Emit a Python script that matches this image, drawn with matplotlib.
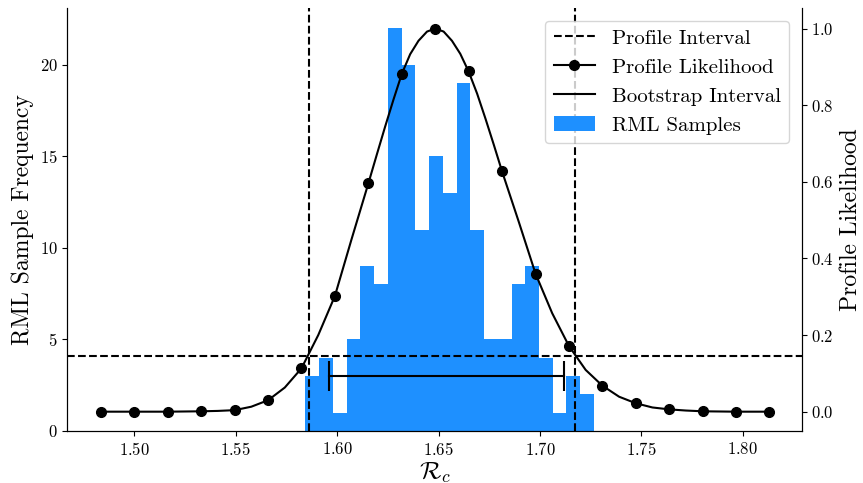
import matplotlib
matplotlib.use('Agg')
import matplotlib.pyplot as plt

plt.rcParams['font.family'] = 'serif'
plt.rcParams['font.serif'] = ['cmr10']
plt.rcParams['mathtext.fontset'] = 'cm'
plt.rcParams['axes.formatter.use_mathtext'] = True

# RML sample histogram (bin edges and counts)
bin_edges = [1.5844, 1.5912, 1.5980, 1.6047, 1.6115, 1.6183, 1.6250, 1.6318,
             1.6386, 1.6453, 1.6521, 1.6589, 1.6657, 1.6724, 1.6792, 1.6860,
             1.6927, 1.6995, 1.7063, 1.7130, 1.7198, 1.7266]
counts = [3, 4, 1, 5, 9, 8, 22, 20, 11, 15, 13, 19, 11, 5, 5, 8, 9, 4, 1, 3, 2]

# profile likelihood curve
rc_grid = [1.4836, 1.4918, 1.5001, 1.5083, 1.5165, 1.5248, 1.5330, 1.5412,
           1.5495, 1.5577, 1.5660, 1.5742, 1.5824, 1.5907, 1.5989, 1.6071,
           1.6154, 1.6195, 1.6236, 1.6278, 1.6319, 1.6360, 1.6401, 1.6443,
           1.6484, 1.6525, 1.6566, 1.6607, 1.6648, 1.6690, 1.6731, 1.6772,
           1.6813, 1.6895, 1.6978, 1.7060, 1.7143, 1.7225, 1.7307, 1.7390,
           1.7472, 1.7554, 1.7637, 1.7719, 1.7802, 1.7884, 1.7966, 1.8049,
           1.8131]
likelihood = [0.0, 0.0, 0.0, 0.0, 0.0, 0.0005, 0.001, 0.002,
              0.004, 0.013, 0.030, 0.063, 0.113, 0.200, 0.302, 0.450,
              0.596, 0.670, 0.743, 0.815, 0.882, 0.933, 0.968, 0.992,
              1.0, 0.992, 0.968, 0.934, 0.888, 0.830, 0.765, 0.697,
              0.627, 0.496, 0.360, 0.257, 0.171, 0.109, 0.068, 0.039,
              0.022, 0.011, 0.006, 0.003, 0.001, 0.0005, 0.0, 0.0,
              0.0]
# grid points where the likelihood was evaluated (markers)
marker_rc = [1.4836, 1.5001, 1.5165, 1.5330, 1.5495, 1.5660, 1.5824, 1.5989,
             1.6154, 1.6319, 1.6484, 1.6648, 1.6813, 1.6978, 1.7143, 1.7307,
             1.7472, 1.7637, 1.7802, 1.7966, 1.8131]

threshold = 0.146
profile_ci = [1.5861, 1.7173]
boot_ci = [1.5959, 1.7118]
boot_y = 3

fig, ax = plt.subplots(figsize=(8.63, 4.83), dpi=100)
fig.subplots_adjust(left=0.078, right=0.929, top=0.983, bottom=0.108)

hist = ax.stairs(counts, bin_edges, fill=True, color='dodgerblue', label='RML Samples')
ax.set_ylim(0, 23.1)
ax.set_xlim(1.467, 1.829)
boot, = ax.plot(boot_ci, [boot_y, boot_y], color='black', lw=1.5, label='Bootstrap Interval')
ax.vlines(boot_ci, boot_y - 0.8, boot_y + 0.8, color='black', lw=1.5)
ax.set_ylabel('RML Sample Frequency', fontsize=17)
ax.set_xlabel(r'$\mathcal{R}_c$', fontsize=18, labelpad=2)
ax.tick_params(labelsize=12)

ax2 = ax.twinx()
marks = [rc_grid.index(v) for v in marker_rc]
prof, = ax2.plot(rc_grid, likelihood, color='black', lw=1.5, marker='o', ms=7,
                 markevery=marks, label='Profile Likelihood')
interval = ax2.axhline(threshold, color='black', ls='--', lw=1.5, label='Profile Interval')
for v in profile_ci:
    ax2.axvline(v, color='black', ls='--', lw=1.5)
ax2.set_ylim(-0.05, 1.053)
ax2.set_ylabel('Profile Likelihood', fontsize=17)
ax2.tick_params(labelsize=12)

for a in (ax, ax2):
    a.spines['top'].set_visible(False)

ax2.legend([interval, prof, boot, hist],
           ['Profile Interval', 'Profile Likelihood', 'Bootstrap Interval', 'RML Samples'],
           loc='upper right', fontsize=15, borderaxespad=0.6)

plt.savefig('out.png', dpi=100)
